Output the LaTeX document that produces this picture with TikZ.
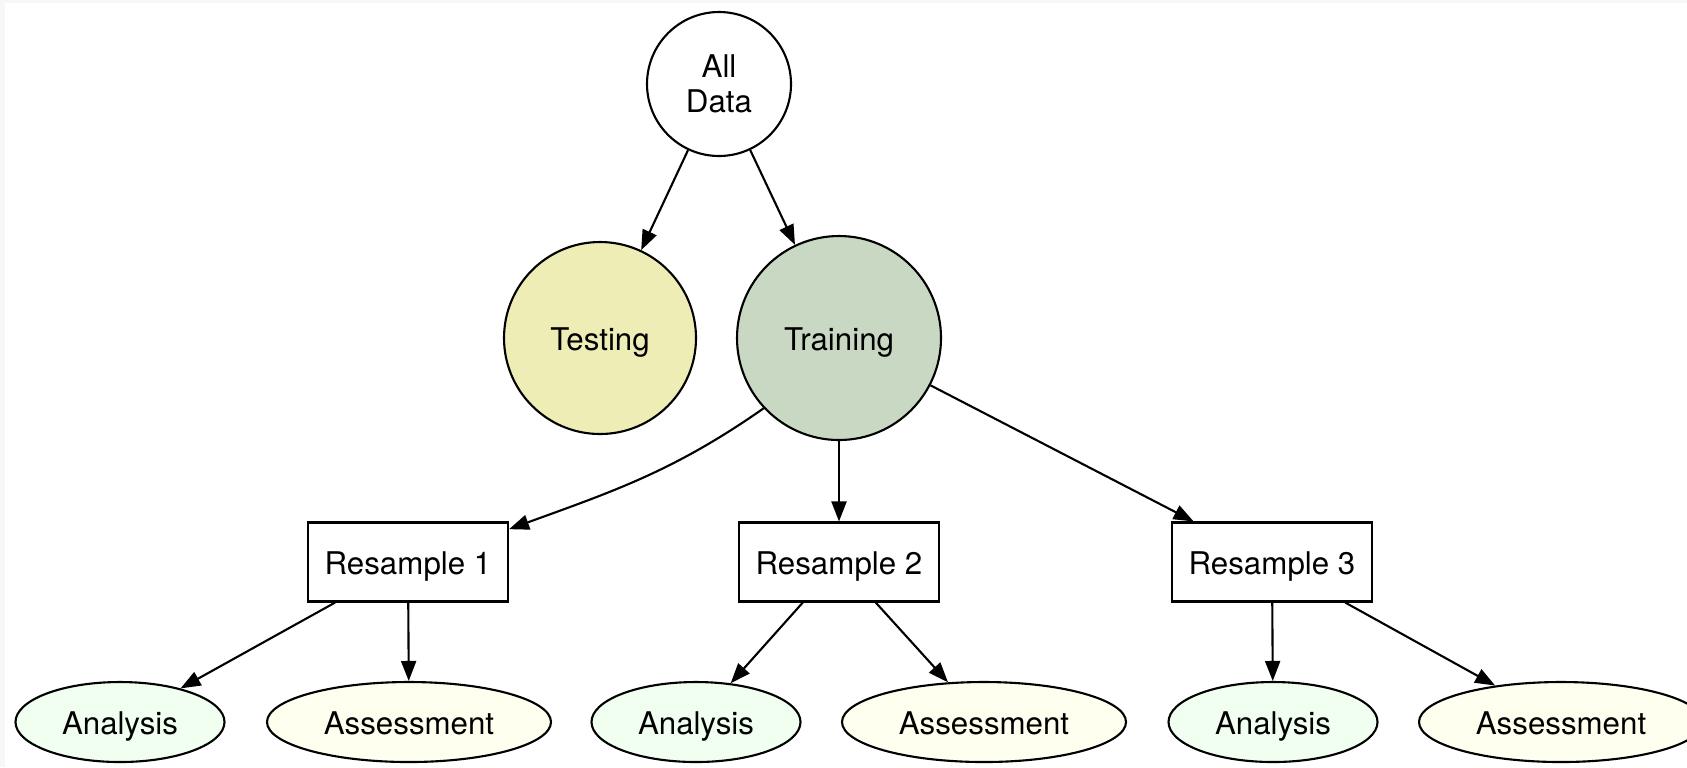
\documentclass[tikz,border=0pt]{standalone}
\usepackage{fontspec}
\setmainfont{TeX Gyre Heros}
\usetikzlibrary{arrows.meta,shapes.geometric}
\definecolor{testfill}{HTML}{EEEDB6}
\definecolor{trainfill}{HTML}{C9D8C3}
\definecolor{anafill}{HTML}{F0FFF0}
\definecolor{assfill}{HTML}{FFFFF0}
\begin{document}
\begin{tikzpicture}[line width=0.6pt,>={Triangle[length=0.2cm,width=0.15cm]}]
%%%%%%%%%%%%%%%%%%%%%%%%%%%%%%%%%%%%%%%%%%%%%%%%%%%%%%%%
% STYLE
\tikzstyle{all}=[circle,draw,minimum size=1.44cm,inner sep=0pt,align=center,font=\fontsize{8.9}{10.1}\selectfont]
\tikzstyle{one}=[inner sep=0pt,text height=0.72em,text depth=0pt,font=\fontsize{8.9}{10.1}\selectfont]
\tikzstyle{test}=[one,circle,draw,fill=testfill,minimum size=1.92cm]
\tikzstyle{train}=[one,circle,draw,fill=trainfill,minimum size=2.04cm]
\tikzstyle{res}=[one,rectangle,draw,minimum width=2.0cm,minimum height=0.79cm]
\tikzstyle{ana}=[one,ellipse,draw,fill=anafill,minimum width=2.09cm,minimum height=0.8cm]
\tikzstyle{ass}=[one,ellipse,draw,fill=assfill,minimum width=2.84cm,minimum height=0.8cm]

% background
\fill[black!3] (0,0) rectangle (16.87,-7.67);
\fill[white] (0.05,-0.03) rectangle (16.87,-7.67);
\useasboundingbox (0,0) rectangle (16.87,-7.67);

%%%%%%%%%%%%%%%%%%%%%%%%%%%%%%%%%%%%%%%%%%%%%%%%%%%%%%%%
% NODES
\node[all] (D0) at (7.19,-0.84) {All\\Data};

\node[test] (T0) at (6.00,-3.38) {Testing};
\node[train] (T1) at (8.39,-3.38) {Training};

\node[res] (R1) at (4.08,-5.62) {Resample 1};
\node[res] (R2) at (8.39,-5.62) {Resample 2};
\node[res] (R3) at (12.72,-5.62) {Resample 3};

\node[ana] (A1) at (1.20,-7.22) {Analysis};
\node[ass] (S1) at (4.09,-7.22) {Assessment};
\node[ana] (A2) at (6.96,-7.22) {Analysis};
\node[ass] (S2) at (9.84,-7.22) {Assessment};
\node[ana] (A3) at (12.73,-7.22) {Analysis};
\node[ass] (S3) at (15.61,-7.22) {Assessment};
%%%%%%%%%%%%%%%%%%%%%%%%%%%%%%%%%%%%%%%%%%%%%%%%%%%%%%%%
% LINKS
\draw[->] (D0) -- (T0);
\draw[->] (D0) -- (T1);

\draw[->] (T1.223) to[out=215,in=20] (R1.18);
\draw[->] (T1) -- (R2);
\draw[->] (T1) -- (R3);

\draw[->] (R1) -- (A1);
\draw[->] (R1) -- (S1);
\draw[->] (R2) -- (A2);
\draw[->] (R2) -- (S2);
\draw[->] (R3) -- (A3);
\draw[->] (R3) -- (S3);

\end{tikzpicture}
\end{document}
